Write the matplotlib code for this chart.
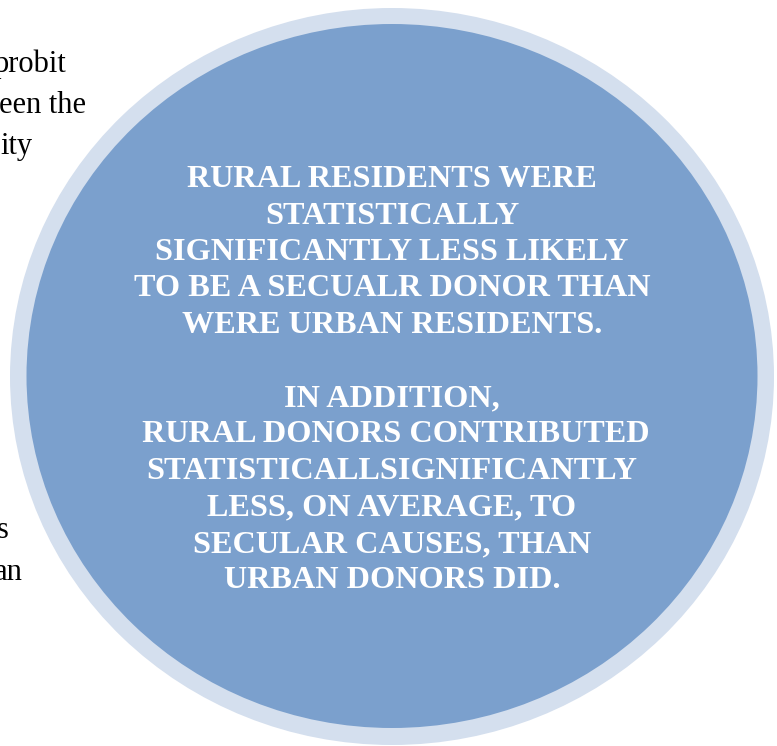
import matplotlib.pyplot as plt
from matplotlib.patches import Ellipse

# text inside the circle, one entry per line ("" = blank line)
circle_lines = [
    "RURAL RESIDENTS WERE",
    "STATISTICALLY",
    "SIGNIFICANTLY LESS LIKELY",
    "TO BE A SECUALR DONOR THAN",
    "WERE URBAN RESIDENTS.",
    "",
    "IN ADDITION,",
    " RURAL DONORS CONTRIBUTED",
    "STATISTICALLSIGNIFICANTLY",
    "LESS, ON AVERAGE, TO",
    "SECULAR CAUSES, THAN",
    "URBAN DONORS DID.",
]

# clipped body text peeking out on the left edge of the page
side_fragments = ["probit", "een the", "ity", "s", "an"]
side_baselines = [72, 113, 154, 538, 580]
side_right_edges = [66, 86, 33, 9, 23]

W, H = 777, 746
fig = plt.figure(figsize=(W / 100, H / 100), dpi=100)
ax = fig.add_axes([0, 0, 1, 1])
ax.set_xlim(0, W)
ax.set_ylim(H, 0)
ax.axis("off")

# ring + filled circle
cx, cy = 392, 376.5
ax.add_patch(Ellipse((cx, cy), 764, 737, facecolor="#D4DFEE", edgecolor="none"))
ax.add_patch(Ellipse((cx, cy - 0.5), 731, 704, facecolor="#7BA0CD", edgecolor="none"))

y0, step = 187, 36.5
for i, line in enumerate(circle_lines):
    if line:
        ax.text(cx, y0 + i * step, line, ha="center", va="baseline",
                family="Liberation Serif", weight="bold", fontsize=23.2,
                color="white")

for word, yb, xr in zip(side_fragments, side_baselines, side_right_edges):
    ax.text(xr, yb, word, ha="right", va="baseline",
            family="Liberation Serif", fontsize=22, color="black")

fig.savefig("out.png", dpi=100)
